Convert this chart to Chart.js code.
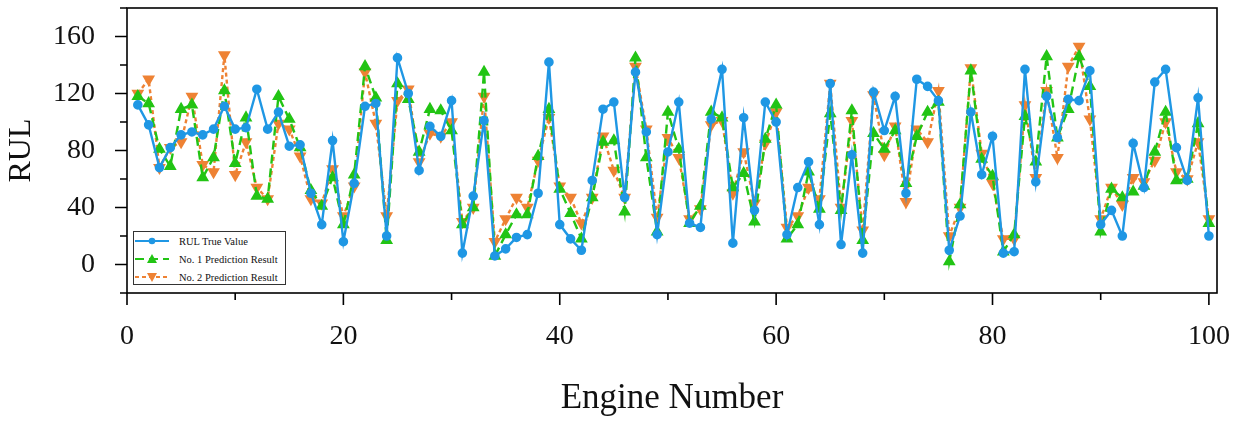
<!DOCTYPE html>
<html lang="en">
<head>
  <meta charset="UTF-8">
  <title>RUL Prediction Results</title>
  <script src="https://cdn.jsdelivr.net/npm/chart.js"></script>
  <style>
    body { margin: 0; background: #fff; }
    #wrap { position: relative; width: 1243px; height: 421px; }
    #legend {
      position: absolute; left: 133px; top: 231px; width: 153px; height: 54px;
      border: 1px solid #333; background: #fff; box-sizing: border-box;
      font-family: "Liberation Serif", "Times New Roman", serif; font-size: 10.5px; color: #111;
    }
    #legend .row { position: absolute; left: 1px; height: 12px; display: flex; align-items: center; }
    #legend svg { width: 34px; height: 12px; margin-right: 10px; }
  </style>
</head>
<body>
  <div id="wrap">
    <canvas id="rulChart" width="1243" height="421"></canvas>
    <!-- legend sits inside the plot, bottom-left -->
    <div id="legend">
      <div class="row" style="top:3px">
        <svg viewBox="0 0 34 12"><line x1="0" y1="6" x2="34" y2="6" stroke="#1f97e4" stroke-width="2"/><circle cx="17" cy="6" r="3.3" fill="#1f97e4"/></svg>RUL True Value
      </div>
      <div class="row" style="top:21px">
        <svg viewBox="0 0 34 12"><line x1="0" y1="6" x2="34" y2="6" stroke="#22c414" stroke-width="2" stroke-dasharray="9,5"/><polygon points="17,1 22,10 12,10" fill="#22c414"/></svg>No. 1 Prediction Result
      </div>
      <div class="row" style="top:39px">
        <svg viewBox="0 0 34 12"><line x1="0" y1="6" x2="34" y2="6" stroke="#ee8234" stroke-width="2" stroke-dasharray="4,3"/><polygon points="12,2 22,2 17,11" fill="#ee8234"/></svg>No. 2 Prediction Result
      </div>
    </div>
  </div>

  <script>
    const engines = [
      1, 2, 3, 4, 5, 6, 7, 8, 9, 10, 11, 12, 13, 14, 15, 16, 17, 18, 19, 20,
      21, 22, 23, 24, 25, 26, 27, 28, 29, 30, 31, 32, 33, 34, 35, 36, 37, 38, 39, 40,
      41, 42, 43, 44, 45, 46, 47, 48, 49, 50, 51, 52, 53, 54, 55, 56, 57, 58, 59, 60,
      61, 62, 63, 64, 65, 66, 67, 68, 69, 70, 71, 72, 73, 74, 75, 76, 77, 78, 79, 80,
      81, 82, 83, 84, 85, 86, 87, 88, 89, 90, 91, 92, 93, 94, 95, 96, 97, 98, 99, 100
    ];

    const trueRul = [
      112, 98, 68, 82, 91, 93, 91, 95, 111, 95, 96, 123, 95, 107, 83, 84, 50, 28, 87, 16,
      57, 111, 113, 20, 145, 120, 66, 97, 90, 115, 8, 48, 101, 6, 11, 19, 21, 50, 142, 28,
      18, 10, 59, 109, 114, 47, 135, 93, 21, 79, 114, 29, 26, 102, 137, 15, 103, 38, 114, 100,
      21, 54, 72, 28, 127, 14, 77, 8, 121, 94, 118, 50, 130, 125, 115, 10, 34, 107, 63, 90,
      8, 9, 137, 58, 118, 89, 116, 115, 136, 28, 38, 20, 85, 54, 128, 137, 82, 59, 117, 20
    ];

    const pred1 = [
      118, 113, 81, 69, 109, 112, 61, 75, 122, 71, 103, 48, 46, 118, 102, 82, 52, 41, 61, 28,
      63, 139, 117, 17, 127, 116, 79, 109, 108, 94, 28, 40, 135, 6, 21, 35, 35, 76, 109, 53,
      36, 18, 47, 86, 87, 37, 145, 75, 23, 107, 81, 29, 41, 107, 103, 54, 64, 30, 88, 112,
      18, 28, 65, 39, 106, 38, 108, 17, 92, 81, 94, 57, 90, 107, 114, 2, 42, 136, 74, 62,
      9, 21, 104, 72, 146, 89, 109, 146, 125, 23, 53, 47, 51, 55, 79, 107, 59, 60, 99, 29
    ];

    const pred2 = [
      120, 130, 68, 82, 86, 118, 70, 65, 147, 63, 86, 54, 46, 99, 95, 76, 46, 43, 67, 34,
      55, 135, 99, 34, 115, 123, 72, 92, 90, 100, 30, 40, 118, 16, 32, 47, 40, 73, 103, 55,
      47, 29, 47, 90, 66, 47, 139, 95, 33, 89, 75, 32, 39, 98, 101, 50, 79, 43, 85, 107,
      26, 34, 54, 46, 127, 40, 101, 24, 119, 77, 97, 44, 95, 86, 122, 20, 40, 138, 78, 57,
      18, 18, 112, 61, 122, 75, 139, 153, 102, 32, 54, 42, 61, 58, 73, 100, 65, 60, 86, 32
    ];

    const yTickLabels = [0, 40, 80, 120, 160];
    const xTickLabels = [0, 20, 40, 60, 80, 100];

    const serif = '"Liberation Serif", "Times New Roman", serif';
    const toXY = vals => vals.map((v, i) => ({ x: engines[i], y: v }));

    // box around the plot + outward major/minor ticks (Origin style)
    const frameTicks = {
      id: 'frameTicks',
      afterDraw(chart) {
        const { ctx, chartArea: a, scales: { x, y } } = chart;
        ctx.save();
        ctx.strokeStyle = '#000';
        ctx.lineWidth = 1.6;
        ctx.strokeRect(a.left, a.top, a.right - a.left, a.bottom - a.top);
        ctx.beginPath();
        x.ticks.forEach(t => {
          const px = x.getPixelForValue(t.value);
          const len = xTickLabels.includes(t.value) ? 12 : 7;
          ctx.moveTo(px, a.bottom);
          ctx.lineTo(px, a.bottom + len);
        });
        y.ticks.forEach(t => {
          const py = y.getPixelForValue(t.value);
          const len = yTickLabels.includes(t.value) ? 12 : 7;
          ctx.moveTo(a.left, py);
          ctx.lineTo(a.left - len, py);
        });
        ctx.stroke();
        ctx.restore();
      }
    };

    new Chart(document.getElementById('rulChart'), {
      type: 'line',
      data: {
        datasets: [
          {
            label: 'RUL True Value',
            data: toXY(trueRul),
            borderColor: '#1f97e4',
            backgroundColor: '#1f97e4',
            borderWidth: 2.4,
            pointStyle: 'circle',
            pointRadius: 3.6,
            tension: 0
          },
          {
            label: 'No. 1 Prediction Result',
            data: toXY(pred1),
            borderColor: '#22c414',
            backgroundColor: '#22c414',
            borderWidth: 2.4,
            borderDash: [9, 5],
            pointStyle: 'triangle',
            pointRadius: 5,
            tension: 0
          },
          {
            label: 'No. 2 Prediction Result',
            data: toXY(pred2),
            borderColor: '#ee8234',
            backgroundColor: '#ee8234',
            borderWidth: 2.4,
            borderDash: [4, 3],
            pointStyle: 'triangle',
            pointRotation: 180,
            pointRadius: 5,
            tension: 0
          }
        ]
      },
      options: {
        responsive: false,
        animation: false,
        layout: { padding: { top: 8, right: 26, left: 0, bottom: 0 } },
        plugins: { legend: { display: false }, tooltip: { enabled: false } },
        scales: {
          x: {
            type: 'linear',
            min: 0,
            max: 100.75,
            grid: { display: false },
            border: { display: false },
            ticks: {
              stepSize: 10,
              includeBounds: false,
              maxRotation: 0,
              autoSkip: false,
              padding: 19,
              color: '#111',
              font: { family: serif, size: 28 },
              callback: v => xTickLabels.includes(v) ? String(v) : ''
            },
            title: {
              display: true,
              text: 'Engine Number',
              color: '#111',
              font: { family: serif, size: 35 },
              padding: { top: 0, bottom: 1 }
            },
            afterFit: s => { s.height = 128; s.paddingLeft = 0; s.paddingRight = 0; }
          },
          y: {
            min: -20,
            max: 180,
            grid: { display: false },
            border: { display: false },
            ticks: {
              stepSize: 20,
              autoSkip: false,
              padding: 24,
              color: '#111',
              font: { family: serif, size: 28 },
              callback: v => yTickLabels.includes(v) ? String(v) : ''
            },
            title: {
              display: true,
              text: 'RUL',
              color: '#111',
              font: { family: serif, size: 32 },
              padding: { top: 2, bottom: 0 }
            },
            afterFit: s => { s.width = 127; s.paddingTop = 0; s.paddingBottom = 0; }
          }
        }
      },
      plugins: [frameTicks]
    });
  </script>
</body>
</html>
